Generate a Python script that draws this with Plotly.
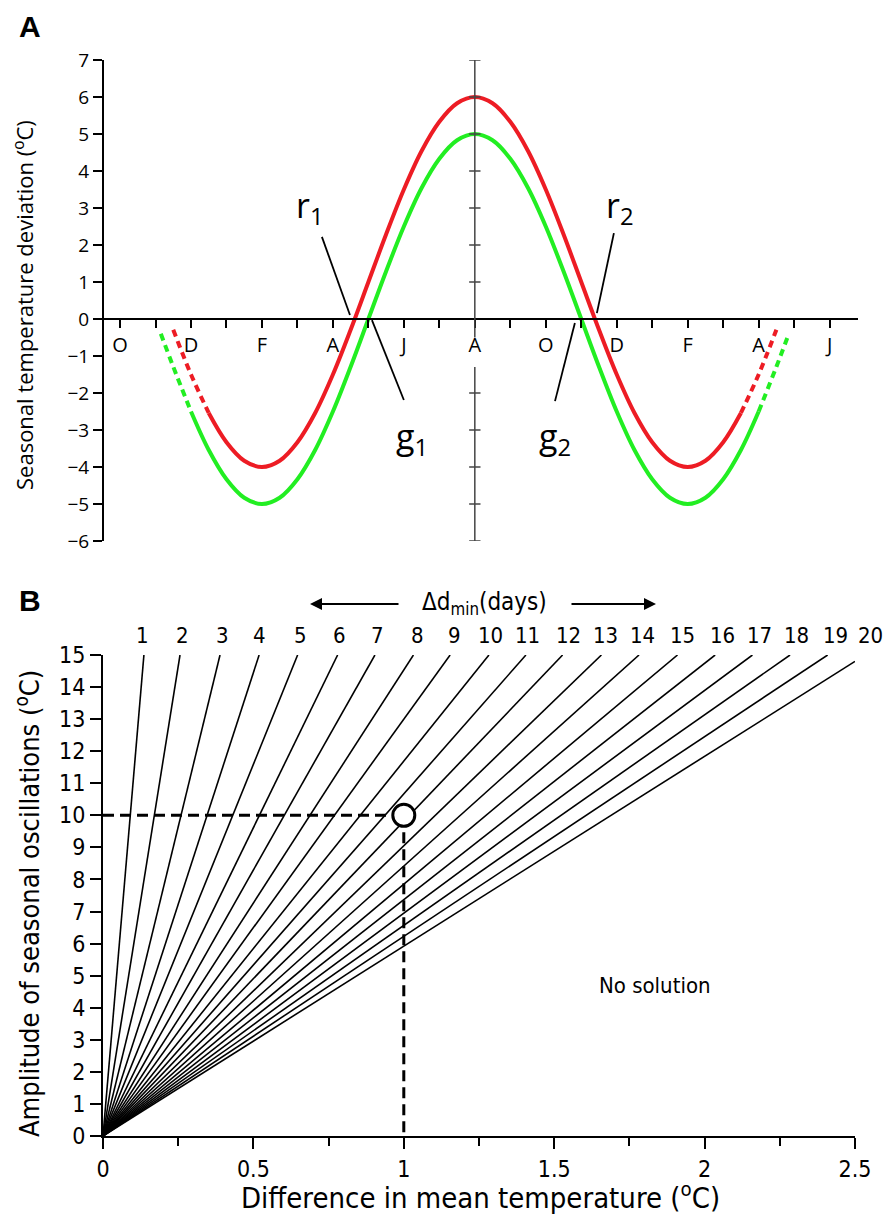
import plotly.graph_objects as go

W, H = 895, 1219
OFF = 8                      # browser body margin
FW, FH = W - OFF, H - OFF    # figure size so that it fits the window
FONT_A = "Open Sans, Noto Sans, sans-serif"
FONT_B = "Liberation Sans Narrow, DejaVu Sans Condensed, Open Sans, sans-serif"

# ---------------- Panel A data (months counted from October = 0) ----------------
month_ticks = list(range(0, 21))
month_labels = ["O", "", "D", "", "F", "", "A", "", "J", "", "A", "", "O", "", "D", "", "F", "", "A", "", "J"]

red_months = [1.5, 2, 2.5, 3, 3.5, 4, 4.5, 5, 5.5, 6, 6.5, 7, 7.5, 8, 8.5, 9, 9.5, 10,
              10.5, 11, 11.5, 12, 12.5, 13, 13.5, 14, 14.5, 15, 15.5, 16, 16.5, 17, 17.5, 18, 18.5]
red_values = [-0.29, -1.5, -2.54, -3.33, -3.83, -4.0, -3.83, -3.33, -2.54, -1.5, -0.29, 1.0, 2.29, 3.5, 4.54, 5.33, 5.83, 6.0,
              5.83, 5.33, 4.54, 3.5, 2.29, 1.0, -0.29, -1.5, -2.54, -3.33, -3.83, -4.0, -3.83, -3.33, -2.54, -1.5, -0.29]

green_months = [1.15, 1.5, 2, 2.5, 3, 3.5, 4, 4.5, 5, 5.5, 6, 6.5, 7, 7.5, 8, 8.5, 9, 9.5, 10,
                10.5, 11, 11.5, 12, 12.5, 13, 13.5, 14, 14.5, 15, 15.5, 16, 16.5, 17, 17.5, 18, 18.5, 18.85]
green_values = [-0.4, -1.29, -2.5, -3.54, -4.33, -4.83, -5.0, -4.83, -4.33, -3.54, -2.5, -1.29, 0.0, 1.29, 2.5, 3.54, 4.33, 4.83, 5.0,
                4.83, 4.33, 3.54, 2.5, 1.29, 0.0, -1.29, -2.5, -3.54, -4.33, -4.83, -5.0, -4.83, -4.33, -3.54, -2.5, -1.29, -0.4]

a_yticks = list(range(-6, 8))

# ---------------- Panel B data ----------------
days = list(range(1, 21))
line_top_x = [0.136, 0.256, 0.389, 0.519, 0.647, 0.780, 0.904, 1.032, 1.154, 1.283,
              1.406, 1.528, 1.657, 1.782, 1.910, 2.035, 2.159, 2.284, 2.409, 2.5]
line_top_y = [15] * 19 + [14.8]
label_x = [0.130, 0.263, 0.396, 0.519, 0.655, 0.785, 0.914, 1.044, 1.170, 1.287,
           1.410, 1.546, 1.672, 1.795, 1.928, 2.058, 2.184, 2.307, 2.434, 2.550]
label_y = 15.6
example_dT = 1.0
example_amp = 10.0

RED = "#ED1C24"
GREEN = "#22EE22"

# paper geometry (targets given in screenshot pixels)
def px_x(p):
    return (p - OFF) / FW

def px_y(p):
    return 1 - (p - OFF) / FH

A_xdom = [px_x(103), px_x(858)]
A_xr = [-0.48, 20.8]
A_ydom = [px_y(541), px_y(60)]
A_yr = [-6, 7]
A_zero = A_ydom[0] + (0 - A_yr[0]) / (A_yr[1] - A_yr[0]) * (A_ydom[1] - A_ydom[0])
B_xdom = [px_x(103), px_x(855)]
B_xr = [0, 2.5]
B_ydom = [px_y(1136), px_y(655)]
B_yr = [0, 15]

def b_paper_x(v):
    return B_xdom[0] + (v - B_xr[0]) / (B_xr[1] - B_xr[0]) * (B_xdom[1] - B_xdom[0])

def b_paper_y(v):
    return B_ydom[0] + (v - B_yr[0]) / (B_yr[1] - B_yr[0]) * (B_ydom[1] - B_ydom[0])

fig = go.Figure()

def seg(xs, ys, i0, i1, color, dash):
    fig.add_trace(go.Scatter(x=xs[i0:i1], y=ys[i0:i1], mode="lines", xaxis="x", yaxis="y",
                             line=dict(color=color, width=4, dash=dash, shape="spline", smoothing=1.0),
                             hoverinfo="skip"))

DASH = "7px,5px"
n = len(red_months)
seg(red_months, red_values, 0, 3, RED, DASH)
seg(red_months, red_values, 2, n - 2, RED, "solid")
seg(red_months, red_values, n - 3, n, RED, DASH)
n = len(green_months)
seg(green_months, green_values, 0, 3, GREEN, DASH)
seg(green_months, green_values, 2, n - 2, GREEN, "solid")
seg(green_months, green_values, n - 3, n, GREEN, DASH)

# Panel B lines
for tx, ty in zip(line_top_x, line_top_y):
    fig.add_trace(go.Scatter(x=[0, tx], y=[0, ty], mode="lines", xaxis="x2", yaxis="y2",
                             line=dict(color="black", width=1.6), hoverinfo="skip"))
fig.add_trace(go.Scatter(x=[0, example_dT], y=[example_amp, example_amp], mode="lines", xaxis="x2", yaxis="y2",
                         line=dict(color="black", width=3, dash="11px,6px"), hoverinfo="skip"))
fig.add_trace(go.Scatter(x=[example_dT, example_dT], y=[example_amp, 0], mode="lines", xaxis="x2", yaxis="y2",
                         line=dict(color="black", width=3, dash="11px,6px"), hoverinfo="skip"))
fig.add_trace(go.Scatter(x=[example_dT], y=[example_amp], mode="markers", xaxis="x2", yaxis="y2",
                         marker=dict(symbol="circle", size=22, color="white", line=dict(color="black", width=3)),
                         hoverinfo="skip"))

shapes = []
# centre vertical line of panel A with a gap around the "A" label
CENTER = 10
GAP = (-0.5, -1.3)
for y0, y1 in [(7, GAP[0]), (GAP[1], -6)]:
    shapes.append(dict(type="line", xref="x", yref="y", x0=CENTER, x1=CENTER, y0=y0, y1=y1,
                       line=dict(color="#444444", width=1.5)))
for yv in a_yticks:
    if yv == 0 or GAP[1] <= yv <= GAP[0]:
        continue
    shapes.append(dict(type="line", xref="x", yref="y", x0=CENTER - 0.16, x1=CENTER + 0.16, y0=yv, y1=yv,
                       line=dict(color="#444444", width=1.5)))
# leader lines
for (x0, y0, x1, y1) in [(5.69, 2.22, 6.48, 0.11), (7.10, -0.03, 8.00, -2.19),
                         (13.92, 2.32, 13.44, 0.16), (12.82, -0.11, 12.26, -2.22)]:
    shapes.append(dict(type="line", xref="x", yref="y", x0=x0, y0=y0, x1=x1, y1=y1,
                       line=dict(color="black", width=1.8)))

ann = []

def txt(text, px, py, size, family, **kw):
    d = dict(text=text, x=px_x(px), y=px_y(py), xref="paper", yref="paper", showarrow=False,
             xanchor="center", yanchor="middle", font=dict(family=family, size=size, color="black"))
    d.update(kw)
    ann.append(d)

txt("<b>A</b>", 30, 8, 30, "Liberation Sans, Arial", yanchor="top")
txt("<b>B</b>", 30, 600, 30, "Liberation Sans, Arial")
for t, px, py in [("r<sub>1</sub>", 310, 207), ("g<sub>1</sub>", 412, 438), ("r<sub>2</sub>", 620, 207), ("g<sub>2</sub>", 555, 438)]:
    txt(t, px, py, 34, FONT_A)
txt("Seasonal temperature deviation (<sup>o</sup>C)", 24, 305, 22, FONT_A, textangle=-90)
txt("Amplitude of seasonal oscillations (<sup>o</sup>C)", 27, 904, 27, FONT_B, textangle=-90)
txt("Difference in mean temperature (<sup>o</sup>C)", 480, 1196, 29, FONT_B)
txt("Δd<sub>min</sub>(days)", 484, 604, 24, FONT_B)
ann.append(dict(text="", x=px_x(310), y=px_y(604), xref="paper", yref="paper", showarrow=True,
                ax=90, ay=0, arrowhead=2, arrowsize=1.2, arrowwidth=2, arrowcolor="black"))
ann.append(dict(text="", x=px_x(656), y=px_y(604), xref="paper", yref="paper", showarrow=True,
                ax=-86, ay=0, arrowhead=2, arrowsize=1.2, arrowwidth=2, arrowcolor="black"))
for d, lx in zip(days, label_x):
    ann.append(dict(text=str(d), x=b_paper_x(lx), y=b_paper_y(label_y), xref="paper", yref="paper",
                    showarrow=False, xanchor="center", yanchor="middle",
                    font=dict(family=FONT_B, size=22, color="black")))
ann.append(dict(text="No solution", x=b_paper_x(1.835), y=b_paper_y(4.7), xref="paper", yref="paper",
                showarrow=False, xanchor="center", yanchor="middle",
                font=dict(family=FONT_B, size=22, color="black")))

axis_common = dict(showgrid=False, zeroline=False, showline=True, linecolor="black", linewidth=2,
                   ticks="outside", tickcolor="black", tickwidth=2, automargin=False)

fig.update_layout(
    width=FW, height=FH, margin=dict(l=0, r=0, t=0, b=0, pad=0), autosize=False,
    paper_bgcolor="white", plot_bgcolor="white", showlegend=False,
    shapes=shapes, annotations=ann,
    xaxis=dict(domain=A_xdom, range=A_xr, anchor="free", position=A_zero,
               tickmode="array", tickvals=month_ticks, ticktext=month_labels, ticklen=8,
               tickfont=dict(family=FONT_A, size=20, color="black"), **axis_common),
    yaxis=dict(domain=A_ydom, range=A_yr, anchor="free", position=A_xdom[0],
               tickmode="array", tickvals=a_yticks, ticklen=9,
               tickfont=dict(family=FONT_A, size=19, color="black"), **axis_common),
    xaxis2=dict(domain=B_xdom, range=B_xr, anchor="y2", dtick=0.5, tick0=0, ticklen=11,
                minor=dict(dtick=0.25, ticklen=8, ticks="outside", tickcolor="black", tickwidth=2),
                tickfont=dict(family=FONT_B, size=23, color="black"), **axis_common),
    yaxis2=dict(domain=B_ydom, range=B_yr, anchor="x2", dtick=1, tick0=0, ticklen=11,
                tickfont=dict(family=FONT_B, size=23, color="black"), **axis_common),
)

fig.write_html("out.html")
